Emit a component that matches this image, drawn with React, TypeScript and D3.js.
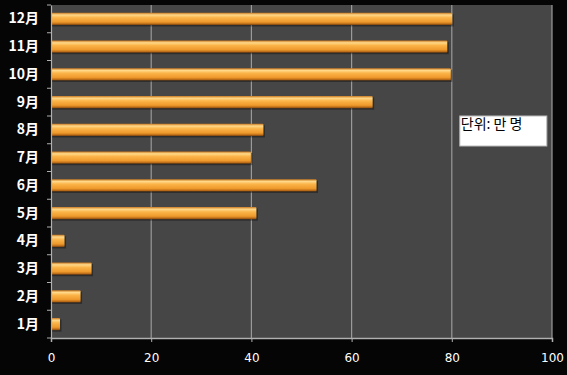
import React, { useEffect, useRef } from 'react';
import * as d3 from 'd3';

// months from bottom to top as drawn
const months = ['1月', '2月', '3月', '4月', '5月', '6月', '7月', '8月', '9月', '10月', '11月', '12月'];
const visitors = [1.8, 5.9, 8.1, 2.7, 41, 53, 39.9, 42.4, 64.2, 79.8, 79.1, 80.1];
const xTicks = [0, 20, 40, 60, 80, 100];
const unitLabel = '단위: 만 명';

const App: React.FC = () => {
  const svgRef = useRef<SVGSVGElement>(null);

  useEffect(() => {
    if (!svgRef.current) return;
    const width = 567;
    const height = 375;
    const margin = { top: 5, right: 15, bottom: 37, left: 51 };

    const svg = d3.select(svgRef.current);
    svg.selectAll('*').remove();
    svg.attr('width', width).attr('height', height);

    svg.append('rect').attr('width', width).attr('height', height).attr('fill', '#050505');

    const defs = svg.append('defs');
    const grad = defs.append('linearGradient')
      .attr('id', 'barGrad')
      .attr('x1', 0).attr('y1', 0).attr('x2', 0).attr('y2', 1);
    [
      ['0%', '#c9781f'],
      ['18%', '#ffd98a'],
      ['40%', '#fbb449'],
      ['75%', '#ef9a2c'],
      ['92%', '#b96a17'],
      ['100%', '#6e3c0c'],
    ].forEach(([o, c]) => grad.append('stop').attr('offset', o).attr('stop-color', c));

    const x = d3.scaleLinear()
      .domain([0, 100])
      .range([margin.left, width - margin.right]);

    const y = d3.scaleBand()
      .domain(months.slice().reverse())
      .range([margin.top, height - margin.bottom])
      .paddingInner(0.56)
      .paddingOuter(0.28);

    // plot area
    svg.append('rect')
      .attr('x', x(0)).attr('y', margin.top)
      .attr('width', x(100) - x(0))
      .attr('height', height - margin.bottom - margin.top)
      .attr('fill', '#464646');

    // gridlines
    svg.append('g')
      .selectAll('line')
      .data(xTicks.slice(1))
      .enter()
      .append('line')
      .attr('x1', d => x(d)).attr('x2', d => x(d))
      .attr('y1', margin.top).attr('y2', height - margin.bottom)
      .attr('stroke', '#9a9a9a')
      .attr('stroke-width', 1.2);

    // bars (shadow + bar)
    const bars = svg.append('g');
    bars.selectAll('rect.shadow')
      .data(visitors)
      .enter()
      .append('rect')
      .attr('class', 'shadow')
      .attr('x', x(0))
      .attr('y', (_, i) => y(months[i])! + 1.5)
      .attr('width', d => x(d) - x(0) + 1.5)
      .attr('height', y.bandwidth())
      .attr('fill', 'rgba(0,0,0,0.35)');
    bars.selectAll('rect.bar')
      .data(visitors)
      .enter()
      .append('rect')
      .attr('class', 'bar')
      .attr('x', x(0))
      .attr('y', (_, i) => y(months[i])!)
      .attr('width', d => x(d) - x(0))
      .attr('height', y.bandwidth())
      .attr('rx', 1)
      .attr('fill', 'url(#barGrad)');

    // axes
    const axisColor = '#b0b0b0';
    const yAxis = svg.append('g')
      .attr('transform', `translate(${x(0)},0)`)
      .call(d3.axisLeft(y).tickSize(0).tickPadding(12));
    yAxis.select('.domain').attr('stroke', axisColor).attr('stroke-width', 1.2);
    yAxis.selectAll('text')
      .attr('fill', '#ffffff')
      .attr('font-size', 14)
      .attr('font-weight', 'bold')
      .attr('font-family', '"Noto Sans CJK KR", sans-serif');
    // category boundary ticks
    const step = y.step();
    const bounds = d3.range(13).map(i => margin.top + i * step);
    svg.append('g')
      .selectAll('line')
      .data(bounds)
      .enter()
      .append('line')
      .attr('x1', x(0) - 4).attr('x2', x(0))
      .attr('y1', d => d).attr('y2', d => d)
      .attr('stroke', axisColor);

    const xAxis = svg.append('g')
      .attr('transform', `translate(0,${height - margin.bottom})`)
      .call(d3.axisBottom(x).tickValues(xTicks).tickSize(4).tickPadding(11));
    xAxis.select('.domain').attr('stroke', axisColor).attr('stroke-width', 1.5);
    xAxis.selectAll('line').attr('stroke', axisColor);
    xAxis.selectAll('text')
      .attr('fill', '#ffffff')
      .attr('font-size', 12)
      .attr('font-family', 'Verdana, "DejaVu Sans", sans-serif');

    // unit label box
    const boxX = x(81.6);
    svg.append('rect')
      .attr('x', boxX).attr('y', 116)
      .attr('width', 87).attr('height', 30)
      .attr('fill', '#ffffff')
      .attr('stroke', '#bbbbbb');
    svg.append('text')
      .attr('x', boxX + 1).attr('y', 129)
      .attr('font-size', 14)
      .attr('fill', '#000000')
      .attr('font-family', '"Noto Sans CJK KR", sans-serif')
      .text(unitLabel);
  }, []);

  return (
    <div style={{ position: 'absolute', left: 0, top: 0, width: 567, height: 375 }}>
      <svg ref={svgRef} style={{ display: 'block' }}></svg>
    </div>
  );
};

export default App;
